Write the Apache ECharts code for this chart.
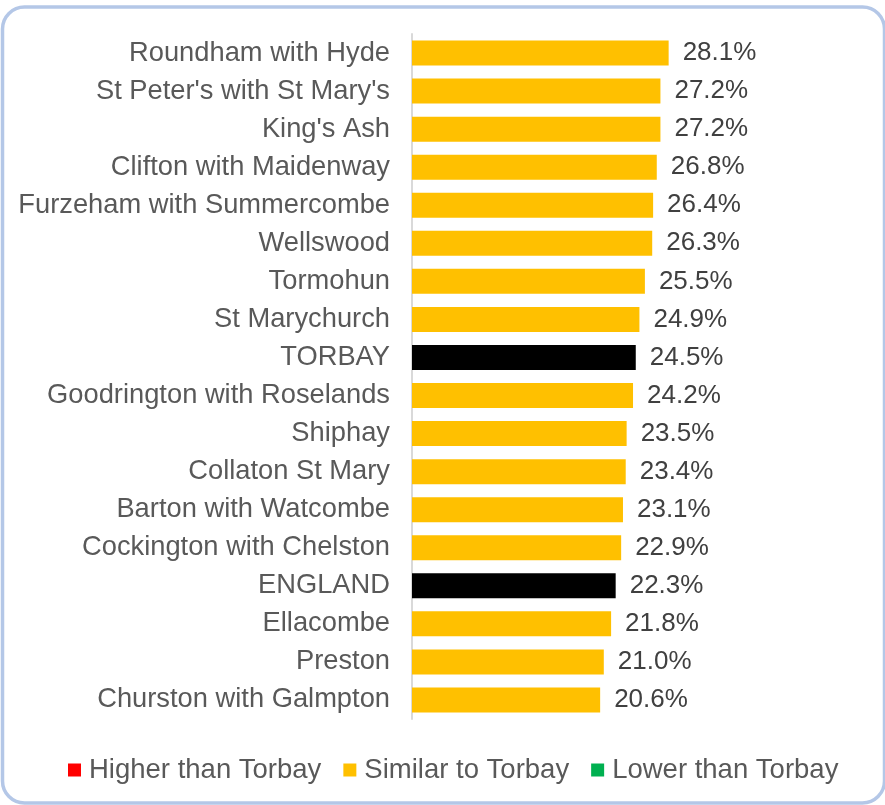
<!DOCTYPE html>
<html>
<head>
<meta charset="utf-8">
<script src="https://cdn.jsdelivr.net/npm/echarts@6/dist/echarts.min.js"></script>
<style>
  html, body { margin: 0; padding: 0; background: #ffffff; }
  #chart { width: 885px; height: 805px; }
</style>
</head>
<body>
<div id="chart"></div>
<script>
// Areas listed top to bottom, with the percentage for each
const areas = [
  "Roundham with Hyde",
  "St Peter's with St Mary's",
  "King's Ash",
  "Clifton with Maidenway",
  "Furzeham with Summercombe",
  "Wellswood",
  "Tormohun",
  "St Marychurch",
  "TORBAY",
  "Goodrington with Roselands",
  "Shiphay",
  "Collaton St Mary",
  "Barton with Watcombe",
  "Cockington with Chelston",
  "ENGLAND",
  "Ellacombe",
  "Preston",
  "Churston with Galmpton"
];
const values = [28.1, 27.2, 27.2, 26.8, 26.4, 26.3, 25.5, 24.9, 24.5, 24.2, 23.5, 23.4, 23.1, 22.9, 22.3, 21.8, 21.0, 20.6];
// Comparator rows drawn in black
const comparators = ["TORBAY", "ENGLAND"];
const legendNames = ["Higher than Torbay", "Similar to Torbay", "Lower than Torbay"];
const legendColors = ["#ff0000", "#ffc000", "#00b050"];

// Category axis runs bottom-up, so reverse for top-to-bottom order
const cats = areas.slice().reverse();
const vals = values.slice().reverse();

const barData = cats.map((c, i) => ({
  value: vals[i],
  itemStyle: { color: comparators.includes(c) ? "#000000" : legendColors[1] }
}));

const chart = echarts.init(document.getElementById("chart"), null, { renderer: "canvas" });

const font = "'Liberation Sans', Arial, sans-serif";

chart.setOption({
  animation: false,
  backgroundColor: "#ffffff",
  graphic: [{
    type: "rect",
    shape: { x: 2.5, y: 7, width: 882, height: 796, r: 22 },
    style: { fill: "none", stroke: "#b4c7e7", lineWidth: 3.5 },
    silent: true,
    z: 100
  }],
  legend: {
    data: legendNames,
    bottom: 16,
    left: 63,
    itemWidth: 13,
    itemHeight: 13,
    itemGap: 22,
    icon: "rect",
    textStyle: { fontFamily: font, fontSize: 27.5, color: "#595959", padding: [0, 0, 0, 3] }
  },
  grid: { left: 412, top: 34, width: 274, height: 685, containLabel: false },
  xAxis: {
    type: "value",
    min: 0,
    max: 30,
    show: false
  },
  yAxis: {
    type: "category",
    data: cats,
    axisLine: { show: true, lineStyle: { color: "#d9d9d9", width: 2 } },
    axisTick: { show: false },
    splitLine: { show: false },
    axisLabel: { margin: 22, fontFamily: font, fontSize: 27.3, color: "#595959" }
  },
  series: [
    {
      name: legendNames[0], type: "bar", data: [], barWidth: 25, barGap: "-100%",
      itemStyle: { color: legendColors[0] }
    },
    {
      name: legendNames[1], type: "bar", data: barData, barWidth: 25, barGap: "-100%",
      itemStyle: { color: legendColors[1] },
      label: {
        show: true, position: "right", distance: 14,
        fontFamily: font, fontSize: 26, color: "#404040",
        formatter: p => p.value.toFixed(1) + "%"
      }
    },
    {
      name: legendNames[2], type: "bar", data: [], barWidth: 25, barGap: "-100%",
      itemStyle: { color: legendColors[2] }
    }
  ]
});
</script>
</body>
</html>
